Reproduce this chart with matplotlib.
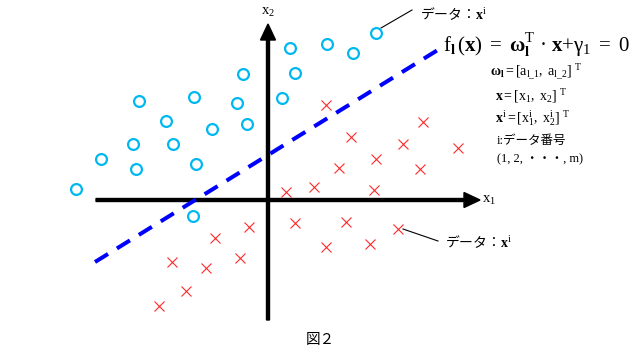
import matplotlib
matplotlib.use("Agg")
import matplotlib.pyplot as plt

plt.rcParams["mathtext.fontset"] = "custom"
plt.rcParams["mathtext.rm"] = "Liberation Serif"
plt.rcParams["mathtext.it"] = "Liberation Serif:italic"
plt.rcParams["mathtext.bf"] = "Liberation Serif:bold"
plt.rcParams["font.family"] = ["Liberation Serif", "Noto Sans CJK JP", "DejaVu Sans"]

# data points (x1, x2), origin at the axes crossing
circle_x = [108, 59, 85, 22, -25, 27, -129, -74, -31, 14, -102, -56, -21, -135, -95, -167, -132, -72, -192, -75]
circle_y = [167, 156, 147, 152, 126, 127, 99, 103, 97, 102, 79, 71, 76, 56, 56, 41, 31, 36, 11, -16]

cross_x = [58, 155, 83, 135, 190, 108, 71, 152, 18, 46, 106, 27, 78, 130, 58, 102,
           -19, -53, -96, -28, -62, -82, -109]
cross_y = [95, 78, 63, 56, 52, 41, 32, 31, 8, 13, 10, -23, -22, -29, -47, -44,
           -27, -38, -62, -58, -68, -91, -106]

# separating line f_l(x) = 0
line_x = [-173, 173]
line_y = [-62, 152]

JP = ["Noto Sans CJK JP", "DejaVu Sans"]
SERIF_JP = ["Liberation Serif", "Noto Sans CJK JP"]

fig = plt.figure(figsize=(6.4, 3.59), dpi=100)
ax = fig.add_axes([0, 0, 1, 1])
ax.set_xlim(-268, 372)
ax.set_ylim(-159, 200)
ax.axis("off")

# axes with arrows
ax.arrow(-172, 0, 212 + 172, 0, width=3, head_width=15, head_length=16,
         length_includes_head=True, color="k", zorder=2)
ax.arrow(0, -120, 0, 176 + 120, width=3, head_width=15, head_length=16,
         length_includes_head=True, color="k", zorder=2)
ax.text(214, 0, r"$\mathrm{x}_1$", fontsize=10.5, ha="left", va="center")
ax.text(0, 188, r"$\mathrm{x}_2$", fontsize=10.5, ha="center", va="center")

ax.plot(line_x, line_y, color="#0000FF", lw=2.9, dashes=(3.8, 2.6), zorder=3)

ax.plot(circle_x, circle_y, "o", ms=7.8, mfc="none", mec="#00B8F0", mew=1.6, zorder=4)
ax.plot(cross_x, cross_y, "x", ms=7, color="#FF2A2A", mew=0.8, zorder=4)

# leader lines + data labels
ax.plot([113, 144], [172, 190], color="k", lw=0.8)
ax.text(152, 186, r"データ：$\mathbf{x}^{\mathrm{i}}$", fontsize=10, family=JP,
        ha="left", va="center")
ax.plot([135, 170], [-29, -41], color="k", lw=0.8)
ax.text(177, -42, r"データ：$\mathbf{x}^{\mathrm{i}}$", fontsize=10, family=JP,
        ha="left", va="center")

# equations
ax.text(175, 155, r"$\mathrm{f}_{\mathbf{l}}\,(\mathbf{x})\ =\ \mathbf{ω}_{\mathbf{l}}^{\mathrm{T}}\ ·\ "
        r"\mathbf{x}{+}\mathrm{γ}_1\ =\ 0$",
        fontsize=15, ha="left", va="center")
ax.text(222, 127, r"$\mathbf{ω}_{\mathbf{l}} = [\mathrm{a}_{\mathrm{l\_1}},\ \mathrm{a}_{\mathrm{l\_2}}]\ ^{\mathrm{T}}$",
        fontsize=10, ha="left", va="center")
ax.text(227, 104, r"$\mathbf{x} = [\mathrm{x}_{1},\ \mathrm{x}_{2}]\ ^{\mathrm{T}}$",
        fontsize=10, ha="left", va="center")
ax.text(227, 82, r"$\mathbf{x}^{\mathrm{i}} = [\mathrm{x}_{1}^{\mathrm{i}},\ \mathrm{x}_{2}^{\mathrm{i}}]\ ^{\mathrm{T}}$",
        fontsize=10, ha="left", va="center")
ax.text(229, 59, "i:データ番号", fontsize=9, family=SERIF_JP, ha="left", va="center")
ax.text(229, 41, "(1, 2, ・・・, m)", fontsize=9, family=SERIF_JP, ha="left", va="center")

ax.text(52, -140, "図２", fontsize=10.5, family=JP, ha="center", va="center")

fig.savefig("out.png", dpi=100)
